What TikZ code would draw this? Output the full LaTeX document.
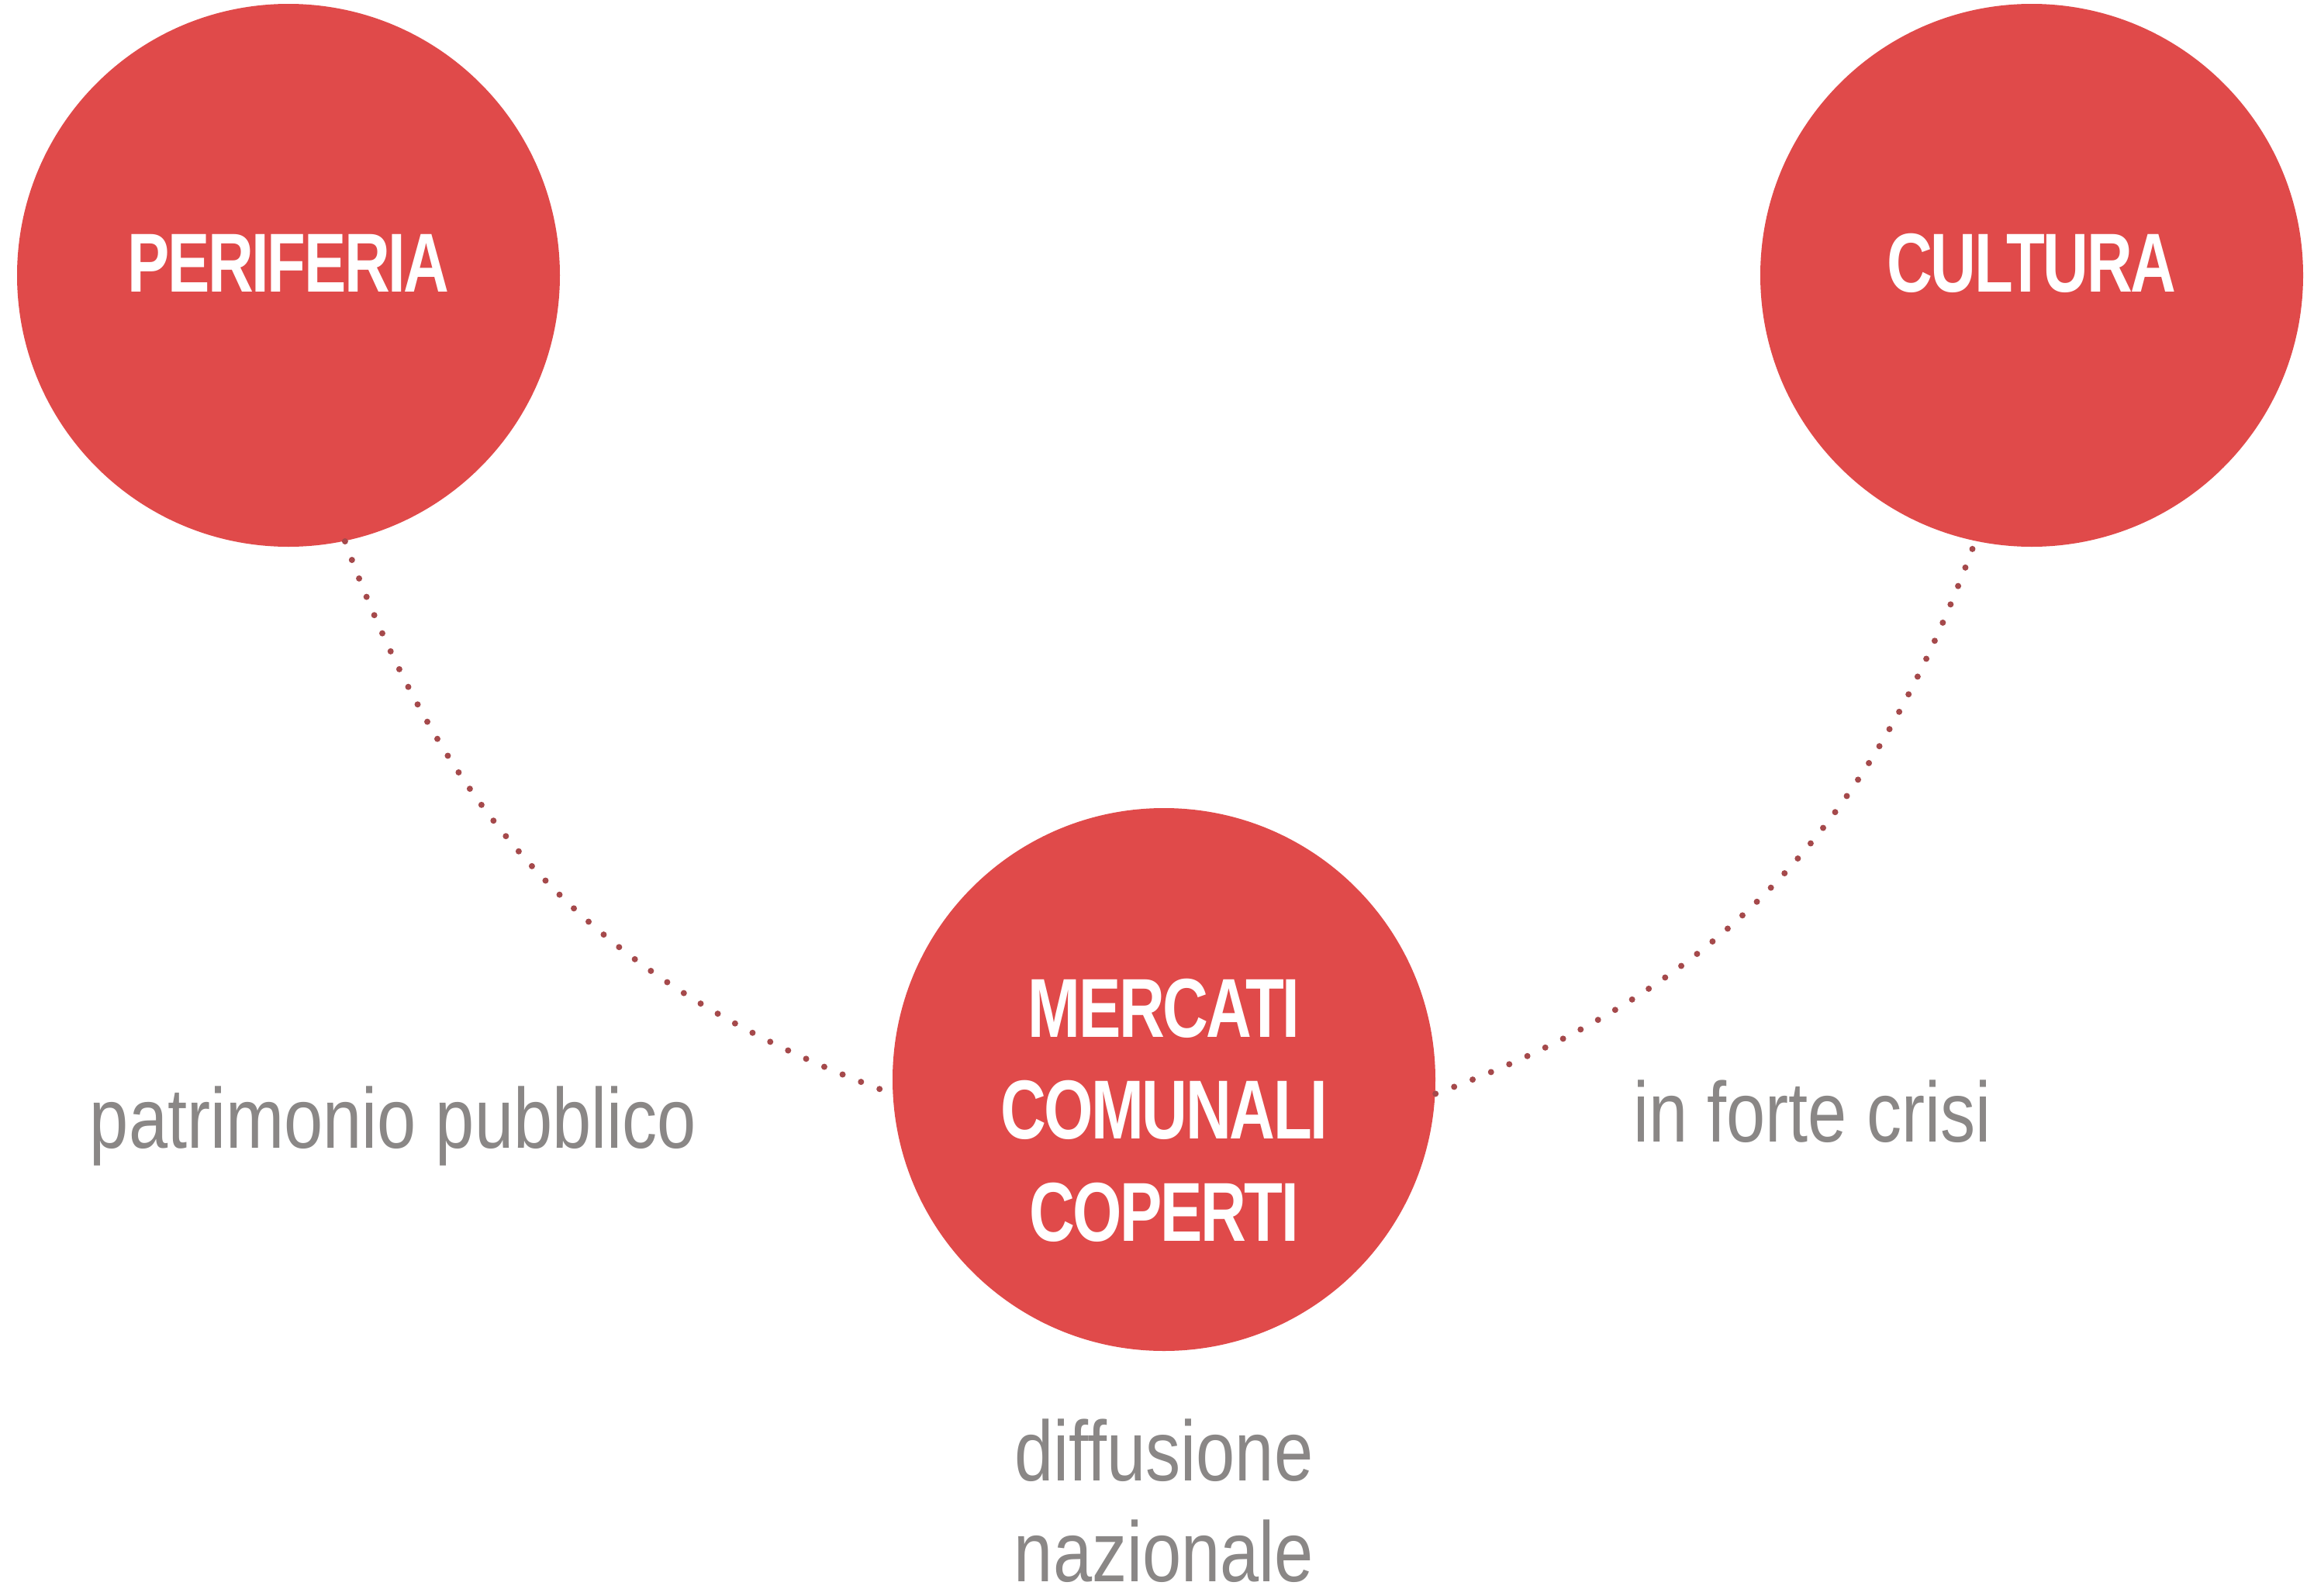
\documentclass[tikz,border=0pt]{standalone}
\usepackage{fontspec}
\usepackage{graphicx}
\usepackage{xcolor}
\usepackage{tikz}
\usetikzlibrary{positioning}
\setmainfont{Liberation Sans}
\newfontfamily\hubfont{Liberation Sans}[LetterSpace=-3]
\newcommand{\cnd}[2][0.755]{\scalebox{#1}[1]{#2}}
\definecolor{cHub}{HTML}{E04A4A}
\definecolor{cDot}{HTML}{A5494B}
\definecolor{cLbl}{HTML}{8A8786}
\tikzset{
  hub/.style ={circle, fill=cHub, minimum size=70mm, inner sep=0pt,
               text=white, align=center,
               font=\hubfont\bfseries\fontsize{30.7pt}{37.3pt}\selectfont},
  lbl/.style ={text=cLbl, inner sep=0pt, align=center,
               font=\fontsize{31.3pt}{37pt}\selectfont},
  fl/.style  ={draw=cDot, line width=0.8mm, line cap=round,
               dash pattern=on 0pt off 2.56mm},
}
\begin{document}
\begin{tikzpicture}
  \useasboundingbox (0,0) rectangle (29.75,-20.58);
  \node[hub,text depth=3.2mm] (per) at (3.72,-3.55) {\cnd{PERIFERIA}};
  \node[hub,text depth=3.2mm] (cul) at (26.20,-3.55) {\cnd{CULTURA}};
  \node[hub] (merc) at (15.01,-13.92)
    {\rule{0pt}{15.5mm}\cnd{MERCATI}\\\cnd{COMUNALI}\\\cnd{COPERTI}};
  \node[lbl,anchor=base] (pat) at (5.07,-14.80) {\cnd[0.82]{patrimonio pubblico}};
  \node[lbl,anchor=base] (cri) at (23.37,-14.72) {\cnd[0.82]{in forte crisi}};
  \node[lbl,below=8.6mm of merc] (dif) {\cnd[0.82]{diffusione}\\\cnd[0.82]{nazionale}};
  \draw[fl](per.-78) to[out=-70,in=160] (merc.183);
  \draw[fl](merc.-3) to[out=20,in=-110] (cul.-102);
\end{tikzpicture}
\end{document}
